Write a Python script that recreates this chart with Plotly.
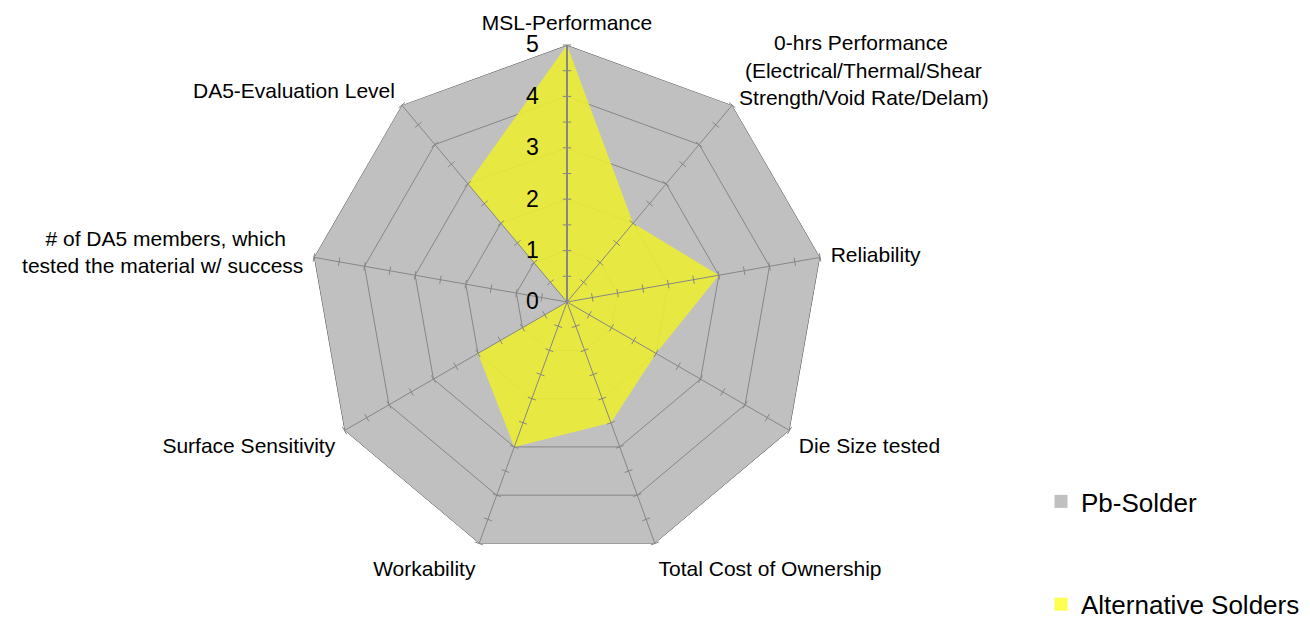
import plotly.graph_objects as go

NB = "\u00a0"
categories = [
    "MSL-Performance",
    NB * 6 + "0-hrs Performance<br>" + NB + "(Electrical/Thermal/Shear<br>Strength/Void Rate/Delam)",
    "Reliability",
    "Die Size tested",
    "Total Cost of Ownership",
    "Workability",
    "Surface Sensitivity",
    "# of DA5 members, which" + NB * 3 + "<br>tested the material w/ success",
    "DA5-Evaluation Level",
]
pb_solder = [5, 5, 5, 5, 5, 5, 5, 5, 5]
alternative = [5, 2, 3, 2, 2.5, 3, 2, 0, 3]
ring_values = [1, 2, 3, 4]
tick_values = [0.5, 1, 1.5, 2, 2.5, 3, 3.5, 4, 4.5, 5]
radial_ticks = [0, 1, 2, 3, 4, 5]

GRAY = "#C0C0C0"
GRID = "#868686"
YELLOW = "rgba(236,236,52,0.9)"
FONT = "Arial, Liberation Sans, sans-serif"

fig = go.Figure()

closed = categories + [categories[0]]

# Pb-Solder background polygon
fig.add_trace(go.Scatterpolar(
    r=pb_solder + [pb_solder[0]], theta=closed, mode="lines", fill="toself",
    fillcolor=GRAY, line=dict(color="#505050", width=1), showlegend=False,
    name="Pb-Solder", hoverinfo="skip"))

# grid rings
for rv in ring_values:
    fig.add_trace(go.Scatterpolar(
        r=[rv] * len(closed), theta=closed, mode="lines",
        line=dict(color=GRID, width=1), showlegend=False, hoverinfo="skip"))

# Alternative Solders
fig.add_trace(go.Scatterpolar(
    r=alternative + [alternative[0]], theta=closed, mode="lines", fill="toself",
    fillcolor=YELLOW, line=dict(width=0, color="rgba(0,0,0,0)"), showlegend=False,
    name="Alternative Solders"))

# spokes and tick marks
n = len(categories)
for k, cat in enumerate(categories):
    fig.add_trace(go.Scatterpolar(
        r=[0, 5], theta=[cat, cat], mode="lines",
        line=dict(color=GRID, width=1), showlegend=False, hoverinfo="skip"))
    fig.add_trace(go.Scatterpolar(
        r=tick_values, theta=[cat] * len(tick_values), mode="markers",
        marker=dict(symbol="line-ew", size=6, angle=360.0 * k / n,
                    line=dict(color=GRID, width=1)),
        showlegend=False, hoverinfo="skip"))

# legend entries
fig.add_trace(go.Scatterpolar(
    r=[None], theta=[categories[0]], mode="markers", name="Pb-Solder",
    marker=dict(symbol="square", size=13, color=GRAY), legendgroup="a"))
fig.add_trace(go.Scatterpolar(
    r=[None], theta=[categories[0]], mode="markers", name="Alternative Solders",
    marker=dict(symbol="square", size=13, color="#FFFF4D"), legendgroup="b"))

W, H = 1310, 623
cx, cy, R = 567, 302, 257
fig.update_layout(
    width=W, height=H,
    margin=dict(l=0, r=0, t=0, b=0, autoexpand=False),
    paper_bgcolor="white",
    font=dict(family=FONT, color="black"),
    polar=dict(
        domain=dict(x=[(cx - R) / W, (cx + R) / W], y=[1 - (cy + R) / H, 1 - (cy - R) / H]),
        gridshape="linear",
        bgcolor="white",
        radialaxis=dict(
            range=[0, 5], tickvals=radial_ticks,
            ticktext=[str(v) + NB * 3 for v in radial_ticks],
            angle=90, side="counterclockwise", tickangle=90,
            showgrid=False, showline=True, linecolor=GRID, linewidth=2,
            ticks="", tickfont=dict(size=23, family=FONT, color="black"),
            layer="above traces"),
        angularaxis=dict(
            direction="clockwise", rotation=90, categoryorder="array", categoryarray=categories,
            showgrid=False, showline=False, ticks="outside", ticklen=6,
            tickcolor="rgba(0,0,0,0)",
            tickfont=dict(size=21, family=FONT, color="black")),
    ),
    showlegend=True,
    legend=dict(
        x=1041 / W, y=1 - 478 / H, xanchor="left", yanchor="top",
        font=dict(size=26, family=FONT, color="black"),
        tracegroupgap=66, traceorder="grouped", bgcolor="rgba(0,0,0,0)"),
)

fig.write_html("out.html", config={"displayModeBar": False},
               post_script="document.body.style.margin='0px';")
